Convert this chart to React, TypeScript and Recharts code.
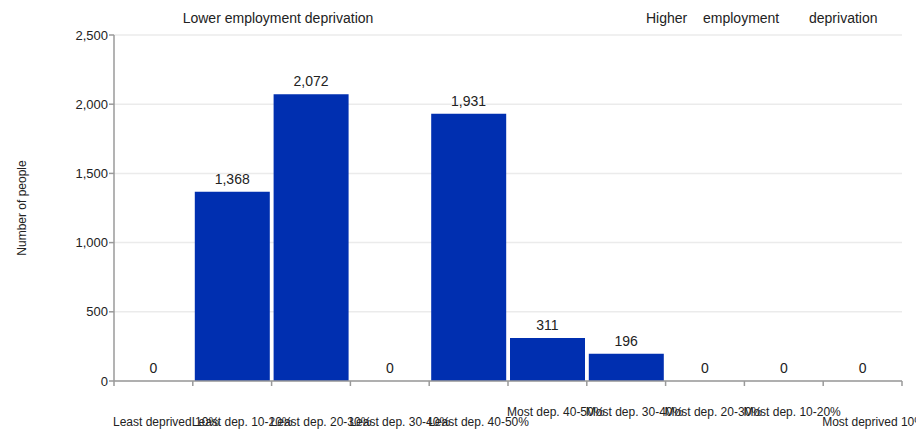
import React from 'react';
import { ComposedChart, Bar, Line, XAxis, YAxis, CartesianGrid, LabelList, Label } from 'recharts';

const categories = [
  'Least deprived 10%',
  'Least dep. 10-20%',
  'Least dep. 20-30%',
  'Least dep. 30-40%',
  'Least dep. 40-50%',
  'Most dep. 40-50%',
  'Most dep. 30-40%',
  'Most dep. 20-30%',
  'Most dep. 10-20%',
  'Most deprived 10%',
];
const people = [0, 1368, 2072, 0, 1931, 311, 196, 0, 0, 0];
const yTicks = [0, 500, 1000, 1500, 2000, 2500];
const topLeftNote = 'Lower employment deprivation';
const topRightWords = ['Higher', 'employment', 'deprivation'];

const data = categories.map((c, i) => ({ category: c, people: people[i] }));

const FONT = '"Liberation Sans", Arial, sans-serif';
const AXIS = '#9a9a9a';
const TEXT = '#222';
const fmt = (v: number) => Number(v).toLocaleString('en-US');

const XTick = (props: any) => {
  const { x, y, payload, index, visibleTicksCount } = props;
  const half = payload && payload.offset ? payload.offset : 39.4;
  const left = x - half;
  const upper = index >= 5 && index <= 8;
  const ty = y + (upper ? 31 : 41);
  const last = index === (visibleTicksCount ?? 10) - 1;
  return (
    <g>
      <line x1={left} y1={y} x2={left} y2={y + 5} stroke={AXIS} strokeWidth={1.5} />
      {last && <line x1={x + half} y1={y} x2={x + half} y2={y + 5} stroke={AXIS} strokeWidth={1.5} />}
      <text x={left - 1} y={ty} dy="0.35em" textAnchor="start" fill={TEXT} fontSize={12} fontFamily={FONT}>
        {payload.value}
      </text>
    </g>
  );
};

const noteStyle: React.CSSProperties = { position: 'absolute', top: 2, fontSize: 14, color: TEXT, whiteSpace: 'nowrap' };

export default function App() {
  return (
    <div style={{ position: 'relative', width: 916, height: 421, fontFamily: FONT }}>
      <div style={{ ...noteStyle, left: 170, width: 200, textAlign: 'center' }}>{topLeftNote}</div>
      <div style={{ ...noteStyle, left: 638 }}>{topRightWords[0]}</div>
      <div style={{ ...noteStyle, left: 695 }}>{topRightWords[1]}</div>
      <div style={{ ...noteStyle, left: 801 }}>{topRightWords[2]}</div>
      <ComposedChart
        width={916}
        height={421}
        data={data}
        margin={{ top: 27, right: 22, left: 0, bottom: 0 }}
        barCategoryGap={2}
        style={{ overflow: 'visible' }}
      >
        <CartesianGrid vertical={false} stroke="#ebebeb" strokeWidth={1.5} />
        <XAxis
          dataKey="category"
          interval={0}
          height={48}
          tickLine={false}
          tickSize={0}
          tickMargin={0}
          axisLine={{ stroke: AXIS, strokeWidth: 1.5 }}
          tick={<XTick />}
        />
        <YAxis
          width={106}
          domain={[0, 2500]}
          ticks={yTicks}
          tickFormatter={fmt}
          tickSize={5}
          tickMargin={1}
          axisLine={{ stroke: AXIS, strokeWidth: 1.5 }}
          tickLine={{ stroke: AXIS, strokeWidth: 1.5 }}
          tick={{ fill: TEXT, fontSize: 13, fontFamily: FONT }}
        >
          <Label
            content={({ viewBox }: any) => {
              const cx = (viewBox?.x ?? 0) + 14;
              const cy = (viewBox?.y ?? 0) + (viewBox?.height ?? 0) / 2;
              return (
                <text
                  x={cx}
                  y={cy}
                  transform={`rotate(-90, ${cx}, ${cy})`}
                  textAnchor="middle"
                  dominantBaseline="central"
                  fill={TEXT}
                  fontSize={12}
                  fontFamily={FONT}
                >
                  Number of people
                </text>
              );
            }}
          />
        </YAxis>
        <Bar dataKey="people" fill="#002fb0" isAnimationActive={false} />
        <Line
          dataKey="people"
          stroke="none"
          dot={false}
          activeDot={false}
          legendType="none"
          isAnimationActive={false}
        >
          <LabelList dataKey="people" position="top" offset={8} formatter={fmt} fill={TEXT} fontSize={14} fontFamily={FONT} />
        </Line>
      </ComposedChart>
    </div>
  );
}
